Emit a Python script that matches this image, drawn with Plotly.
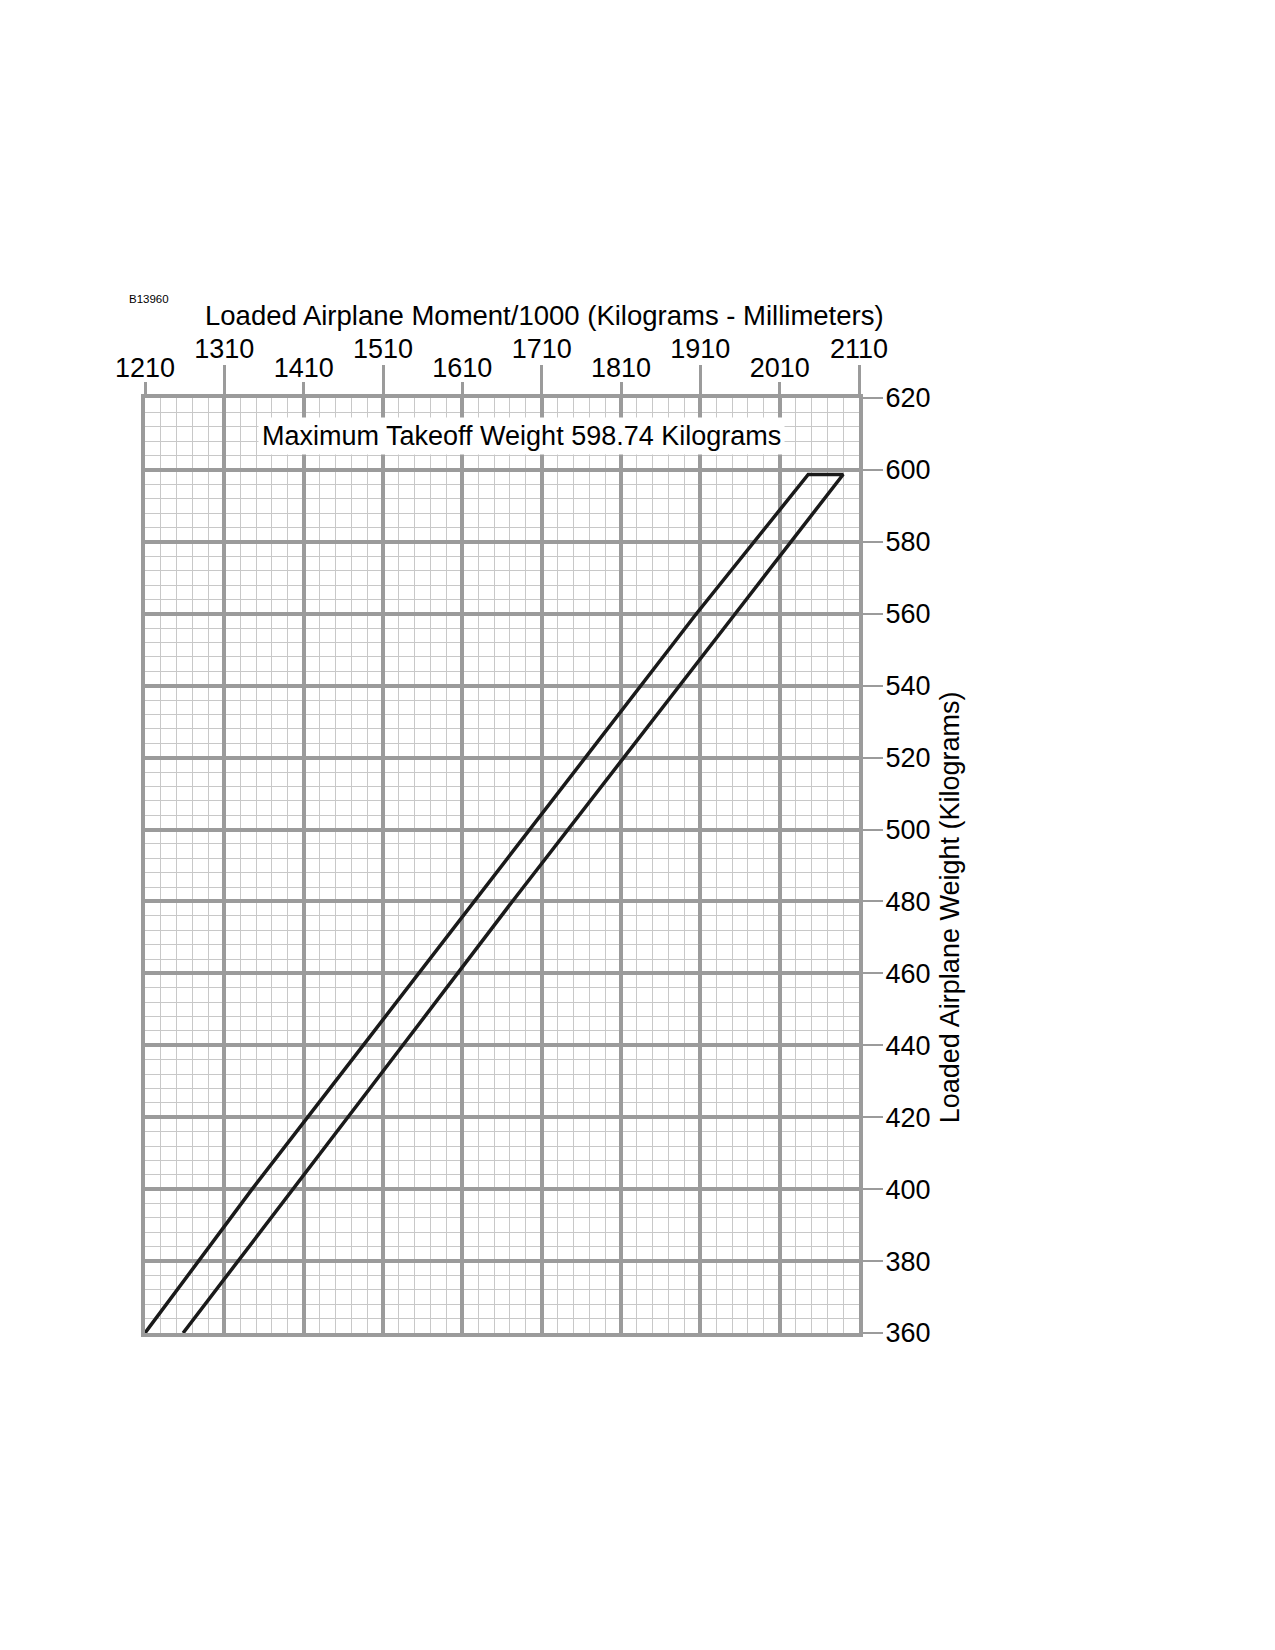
import plotly.graph_objects as go

# forward (left) limit line, weight kg -> moment/1000
left_weight = [360, 400, 440, 480, 520, 560, 598.74]
left_moment = [1210, 1345, 1485, 1625, 1765, 1905, 2046]

# aft (right) limit line, read top to bottom
right_weight = [598.74, 560, 520, 480, 440, 400, 360]
right_moment = [2090, 1954, 1813, 1673, 1535, 1396, 1258]

x_ticks_low = [1210, 1410, 1610, 1810, 2010]
x_ticks_high = [1310, 1510, 1710, 1910, 2110]
x_range = [1210, 2110]
y_range = [360, 620]

max_weight_note = "Maximum Takeoff Weight 598.74 Kilograms"
x_title = "Loaded Airplane Moment/1000 (Kilograms - Millimeters)"
y_title = "Loaded Airplane Weight (Kilograms)"
fig_code = "B13960"

MAJOR = "#9b9b9b"
MINOR = "#c8c8c8"
FONT = "Liberation Sans, Arial, sans-serif"

fig = go.Figure()
fig.add_trace(go.Scatter(
    x=left_moment + right_moment,
    y=left_weight + right_weight,
    mode="lines",
    line=dict(color="#1a1a1a", width=3.5),
    hoverinfo="skip",
    showlegend=False,
))
# empty traces so the two staggered label axes get drawn
for ax in ["x2", "x3"]:
    fig.add_trace(go.Scatter(x=[], y=[], xaxis=ax, yaxis="y",
                             mode="lines", showlegend=False, hoverinfo="skip"))

tick_font = dict(family=FONT, size=27, color="black")

fig.update_layout(
    width=1275,
    height=1650,
    # the page body adds 8px on top/left
    margin=dict(l=137, r=424, t=390, b=325),
    paper_bgcolor="white",
    plot_bgcolor="white",
    font=dict(family=FONT, size=27, color="black"),
    xaxis=dict(
        range=x_range, side="top", anchor="y",
        tickmode="linear", tick0=1210, dtick=100,
        showticklabels=False, ticks="",
        showgrid=True, gridcolor=MAJOR, gridwidth=4,
        minor=dict(dtick=20, tick0=1210, showgrid=True, gridcolor=MINOR, gridwidth=1.2),
        showline=True, linecolor=MAJOR, linewidth=4, mirror=True,
        zeroline=False, fixedrange=True,
    ),
    xaxis2=dict(
        range=x_range, side="top", overlaying="x", anchor="y",
        tickmode="array", tickvals=x_ticks_low,
        ticks="outside", ticklen=15, tickwidth=2.5, tickcolor=MAJOR,
        ticklabelstandoff=-6,
        showgrid=False, zeroline=False, showline=False,
        tickfont=tick_font, fixedrange=True,
    ),
    xaxis3=dict(
        range=x_range, side="top", overlaying="x", anchor="y",
        tickmode="array", tickvals=x_ticks_high,
        ticks="outside", ticklen=32, tickwidth=2.5, tickcolor=MAJOR,
        ticklabelstandoff=-4,
        showgrid=False, zeroline=False, showline=False,
        tickfont=tick_font, fixedrange=True,
    ),
    yaxis=dict(
        range=y_range, side="right",
        tickmode="linear", tick0=360, dtick=20,
        ticks="outside", ticklen=20, tickwidth=1.5, tickcolor=MAJOR,
        ticklabelstandoff=-3,
        tickfont=tick_font,
        showgrid=True, gridcolor=MAJOR, gridwidth=4,
        minor=dict(dtick=4, tick0=360, showgrid=True, gridcolor=MINOR, gridwidth=1.2),
        showline=True, linecolor=MAJOR, linewidth=4, mirror=True,
        zeroline=False, fixedrange=True,
    ),
)

fig.add_annotation(
    text=max_weight_note, xref="x", yref="y", x=1685, y=609.4,
    showarrow=False, bgcolor="white", borderpad=3,
    font=dict(family=FONT, size=27, color="black"),
)
fig.add_annotation(
    text=x_title, xref="paper", yref="paper", x=0.559, y=1.088,
    xanchor="center", yanchor="middle", showarrow=False,
    font=dict(family=FONT, size=27.5, color="black"),
)
fig.add_annotation(
    text=y_title, xref="paper", yref="paper", x=1.127, y=0.455,
    xanchor="center", yanchor="middle", textangle=-90, showarrow=False,
    font=dict(family=FONT, size=27, color="black"),
)
fig.add_annotation(
    text=fig_code, xref="paper", yref="paper", x=-0.025, y=1.106,
    xanchor="left", yanchor="middle", showarrow=False,
    font=dict(family=FONT, size=11.5, color="black"),
)

fig.write_html("out.html")
